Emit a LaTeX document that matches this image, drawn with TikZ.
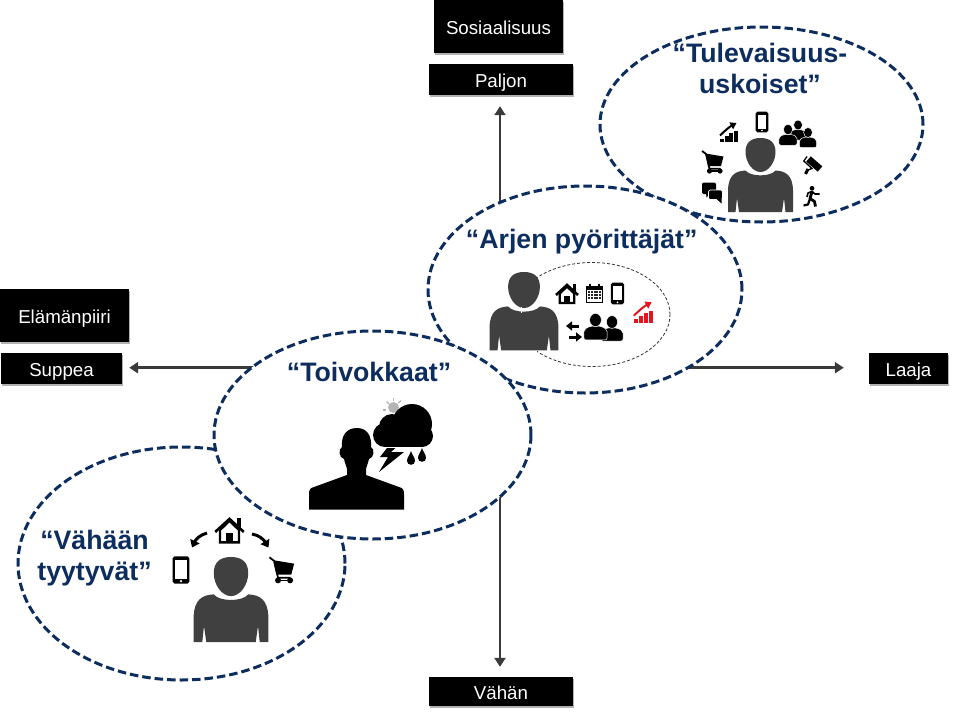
\documentclass[tikz,border=0pt]{standalone}
\usepackage{fontspec}
\setmainfont{Liberation Sans}
\usetikzlibrary{shapes.geometric,shadows,arrows.meta}
\definecolor{navy}{HTML}{0C2D5E}
\definecolor{figgrey}{HTML}{404040}
\definecolor{axisgrey}{HTML}{3A3A3A}
\definecolor{chartred}{HTML}{E8141C}
\definecolor{sungrey}{HTML}{B4B4B4}

% Grey bust with head and shoulders; origin at the crown of the head
\newcommand\iconperson[2]{\begin{scope}[shift={(#1)},scale=#2]
  \fill[figgrey] (0,0) .. controls (10,0) and (15,5) .. (15,14) .. controls (15,24) and (8,34) .. (0,34)
     .. controls (-8,34) and (-15,24) .. (-15,14) .. controls (-15,5) and (-10,0) .. (0,0) -- cycle;
  \fill[figgrey] (-15,32.5) .. controls (-10,39) and (10,39) .. (15,32.5)
     .. controls (25,33) and (32,37) .. (32.5,52) -- (32.5,74) -- (25,74) -- (23.5,60) -- (21.5,74)
     -- (-21.5,74) -- (-23.5,60) -- (-25,74) -- (-32.5,74) -- (-32.5,52)
     .. controls (-32,37) and (-25,33) .. (-15,32.5) -- cycle;
\end{scope}}

\newcommand\iconphone[2]{\begin{scope}[shift={(#1)},scale=#2]
  \fill[black,rounded corners=1.8pt] (-6.3,-10.3) rectangle (6.3,10.3);
  \fill[white] (-4.2,-7.4) rectangle (4.2,6.6);
  \fill[white] (0,8.4) circle (0.9);
\end{scope}}

\newcommand\iconhouse[2]{\begin{scope}[shift={(#1)},scale=#2]
  \fill[black] (5.5,-9.5) rectangle (8.5,-2);
  \draw[black,line width=2.3pt,fill=white,line join=miter] (-7.3,0) -- (-7.3,9.5) -- (7.3,9.5) -- (7.3,0) -- (0,-7) -- cycle;
  \draw[black,line width=2.6pt] (-11,1.5) -- (0,-8.5) -- (11,1.5);
  \fill[black] (-2.8,2.5) rectangle (2.8,9.5);
\end{scope}}

\newcommand\iconcart[2]{\begin{scope}[shift={(#1)},scale=#2]
  \draw[black,line width=1.8pt] (-10.5,-11) -- (-6.5,-8) -- (-3,6.8) -- (8,6.8);
  \fill[black] (-7,-8.5) -- (11,-5.5) -- (8.5,4) -- (-4.5,4) -- cycle;
  \fill[black] (-3,9) circle (2.6);
  \fill[black] (7.5,9) circle (2.6);
  \draw[black,line width=1.3pt] (-3,9) -- (7.5,9);
\end{scope}}

% Rising bars under a diagonal arrow; third argument is the colour
\newcommand\iconchart[3]{\begin{scope}[shift={(#1)},scale=#2]
  \fill[#3] (-9,6.3) rectangle (-5.1,9.5);
  \fill[#3] (-4.3,3.6) rectangle (-0.4,9.5);
  \fill[#3] (0.3,0.9) rectangle (4.2,9.5);
  \fill[#3] (5,-1.5) rectangle (8.9,9.5);
  \draw[#3,line width=2pt,-{Triangle[width=7.5pt,length=6pt]}] (-9,3) .. controls (-4,-2) and (1,-6) .. (7.5,-9.5);
\end{scope}}

% Small figure of a group; origin at the centre of the head
\newcommand\iconbuddy[2]{\begin{scope}[shift={(#1)},scale=#2]
  \filldraw[fill=black,draw=white,line width=0.5pt,rounded corners=2pt] (-8.7,15) -- (-8.7,7.2) -- (-4,4.6) -- (4,4.6) -- (8.7,7.2) -- (8.7,15) -- cycle;
  \filldraw[fill=black,draw=white,line width=0.5pt] (0,0) ellipse (4.4 and 5);
\end{scope}}

\newcommand\iconcalendar[2]{\begin{scope}[shift={(#1)},scale=#2]
  \draw[black,line width=1.4pt] (-7.8,-6) rectangle (7.8,9);
  \fill[black] (-8.5,-7.5) rectangle (8.5,-3.2);
  \foreach \rw in {-1.3,1.7,4.7}{\foreach \cl in {-5.2,-2.6,0,2.6,5.2}{
    \fill[black!85] (\cl-1,\rw-1) rectangle (\cl+1,\rw+1);}}
  \foreach \cl in {-4.6,4.6}{\draw[black,line width=1.4pt] (\cl,-9.8) -- (\cl,-6.5);}
\end{scope}}

\tikzset{
  navyring/.style={ellipse,draw=navy,line width=3pt,dash pattern=on 8.5pt off 4pt,fill=white,inner sep=0pt},
  blackbox/.style={fill=black,text=white,inner sep=0pt,text height=16pt,text depth=1pt,
     font=\fontsize{18.7}{22}\selectfont,
     drop shadow={shadow xshift=0.8pt,shadow yshift=-2pt,opacity=.3,fill=black}},
  axisline/.style={draw=axisgrey,line width=2.6pt,-{Triangle[width=11pt,length=9pt]}},
  grouptitle/.style={text=navy,font=\fontsize{26.7}{31}\bfseries\selectfont,align=center,inner sep=0pt,anchor=base},
}

\begin{document}
\begin{tikzpicture}[x=1pt,y=-1pt]
\useasboundingbox (0,0) rectangle (959,715);
\fill[white] (0,0) rectangle (959,715);

% Axis captions and end labels
\node[blackbox,minimum width=129pt,minimum height=53pt] (sos) at (498.5,26.5) {Sosiaalisuus};
\node[blackbox,minimum width=144pt,minimum height=31pt] (paljon) at (501,79.5) {Paljon};
\node[blackbox,minimum width=129pt,minimum height=53pt] (elama) at (64.5,315.5) {Elämänpiiri};
\node[blackbox,minimum width=121pt,minimum height=31pt] (suppea) at (61.5,368.5) {Suppea};
\node[blackbox,minimum width=79pt,minimum height=31pt] (laaja) at (908.5,368.5) {Laaja};
\node[blackbox,minimum width=144pt,minimum height=29pt] (vahan) at (501,691.5) {Vähän};

% The two axes run from the origin out to their end labels
\coordinate (origin) at (500,367.7);
\draw[axisline,shorten >=11pt] (origin) -- (origin |- paljon.south);
\draw[axisline,shorten >=10pt] (origin) -- (origin |- vahan.north);
\draw[axisline,shorten >=7pt] (origin) -- (origin -| suppea.east);
\draw[axisline,shorten >=25pt] (origin) -- (origin -| laaja.west);

% Lifestyle groups, back to front
\node[navyring,minimum width=323pt,minimum height=195pt] (ringt) at (761.5,124.5) {};
\node[navyring,minimum width=327pt,minimum height=233pt] (ringv) at (181.5,563.5) {};
\node[navyring,minimum width=314pt,minimum height=207pt] (ringa) at (585,289.5) {};
\node[navyring,minimum width=317pt,minimum height=208pt] (ringk) at (372.5,435) {};

% Group: Tulevaisuususkoiset
\node[grouptitle] (titlet) at (760,93) {“Tulevaisuus-\\uskoiset”};
\iconperson{760.5,138}{1}
\iconphone{762,122}{1}
\iconchart{729,132.5}{1}{black}
\iconcart{712.5,162}{1}
\iconbuddy{798,125}{1}
\iconbuddy{788,129.5}{1.05}
\iconbuddy{808,132.5}{1}
% paint roller
\draw[black,line width=7pt] (808.5,159) -- (820,169);
\draw[black,line width=1.3pt] (807,156.5) -- (803.8,161) -- (812,168.5) -- (808,170);
\draw[black,line width=3pt] (808,169) -- (805.5,174);
% runner
\fill[black] (812,188.3) circle (2.4);
\draw[black,line width=2.8pt,line join=round] (812,191.5) -- (810,198.5) -- (814.5,201.5) -- (815.5,206.5);
\draw[black,line width=2.2pt,line join=round] (810,198.5) -- (808,204.5) -- (803.5,205.5);
\draw[black,line width=1.6pt,line join=round] (807,197) -- (808,193) -- (812,191.5) -- (815,194) -- (819.5,194);
% speech bubbles
\fill[black,rounded corners=2pt] (702,182.5) rectangle (716,194);
\fill[black] (706,192) -- (706.5,197.5) -- (711.5,192) -- cycle;
\filldraw[fill=black,draw=white,line width=.7pt,rounded corners=2pt] (708.5,190) rectangle (722.5,199.5);
\fill[black] (716,198.5) -- (721.5,203.5) -- (721.5,198.5) -- cycle;

% Group: Arjen pyörittäjät
\node[grouptitle] (titlea) at (581.7,248) {“Arjen pyörittäjät”};
\begin{scope}
  \clip (537,255) rectangle (680,375);
  \node[ellipse,draw=black!80,line width=.8pt,dash pattern=on 3pt off 2pt,inner sep=0pt,minimum width=156pt,minimum height=104pt] (circlea) at (592,314.5) {};
\end{scope}
\iconperson{524,272}{1.06}
\draw[white,line width=.8pt] (521,307) -- (521,313);
\iconhouse{567,293.5}{1}
\iconcalendar{594.5,293.5}{1}
\iconphone{617.5,293.5}{1.05}
\iconchart{643.5,312.5}{1.08}{chartred}
\iconbuddy{612,322}{1.27}
\iconbuddy{595.5,320}{1.33}
% exchange arrows
\draw[black,line width=3pt,-{Triangle[width=9pt,length=6pt]}] (578.5,326) -- (566,326);
\draw[black,line width=3pt,-{Triangle[width=9pt,length=6pt]}] (569,337) -- (582,337);

% Group: Toivokkaat
\node[grouptitle] (titlek) at (369,381) {“Toivokkaat”};
% sun behind the cloud
\fill[sungrey] (393.5,407.5) circle (5.5);
\draw[sungrey,line width=1.2pt] (386.5,401.5) -- (389,404);
\draw[sungrey,line width=1.2pt] (393.5,398) -- (393.5,401);
\draw[sungrey,line width=1.2pt] (401,400.5) -- (398.5,403);
\draw[sungrey,line width=1.2pt] (383,410) -- (386,410);
% storm cloud
\fill[black] (412,424) circle (20);
\fill[black] (392,427) circle (13);
\fill[black] (385,435) circle (12);
\fill[black] (422,436) circle (11);
\fill[black] (385,430) rectangle (422,447);
% lightning
\fill[black] (387,448) -- (395.5,448) -- (391,452) -- (404,452) -- (379,472) -- (388,457) -- (380,457) -- cycle;
% rain drops
\foreach \dx/\dy in {411/451,422/448}{
  \fill[black] (\dx,\dy) .. controls (\dx+1,\dy+4) and (\dx+4,\dy+6) .. (\dx+4,\dy+10)
     .. controls (\dx+4,\dy+15) and (\dx-4,\dy+15) .. (\dx-4,\dy+10)
     .. controls (\dx-4,\dy+6) and (\dx-1,\dy+4) .. (\dx,\dy) -- cycle;}
% silhouette
\fill[black] (357,428) .. controls (367,428) and (372,436) .. (371,447)
   .. controls (375,449) and (374,458) .. (369,459) .. controls (368,464) and (366,467) .. (366,470)
   -- (366,475) -- (399,487) .. controls (403,488) and (404,490) .. (404,494) -- (404,509.5) -- (309,509.5) -- (309,494)
   .. controls (309,490) and (310,488) .. (314,487) -- (347,475) -- (347,470)
   .. controls (347,467) and (345,464) .. (344,459) .. controls (339,458) and (338,449) .. (342,447)
   .. controls (341,436) and (346,428) .. (357,428) -- cycle;

% Group: Vähään tyytyvät
\node[grouptitle] (titlev) at (94.5,580) {“Vähään\\tyytyvät”};
\iconperson{231,557}{1.15}
\iconhouse{229.5,530}{1.3}
\iconphone{181,570}{1.32}
\iconcart{281.5,570}{1.15}
\draw[black,line width=3pt,-{Triangle[width=10pt,length=7pt]}] (207,533) .. controls (200,535) and (196,539) .. (192,547.5);
\draw[black,line width=3pt,-{Triangle[width=10pt,length=7pt]}] (252,534) .. controls (259,535) and (264,540) .. (268.5,547.5);
\end{tikzpicture}
\end{document}
